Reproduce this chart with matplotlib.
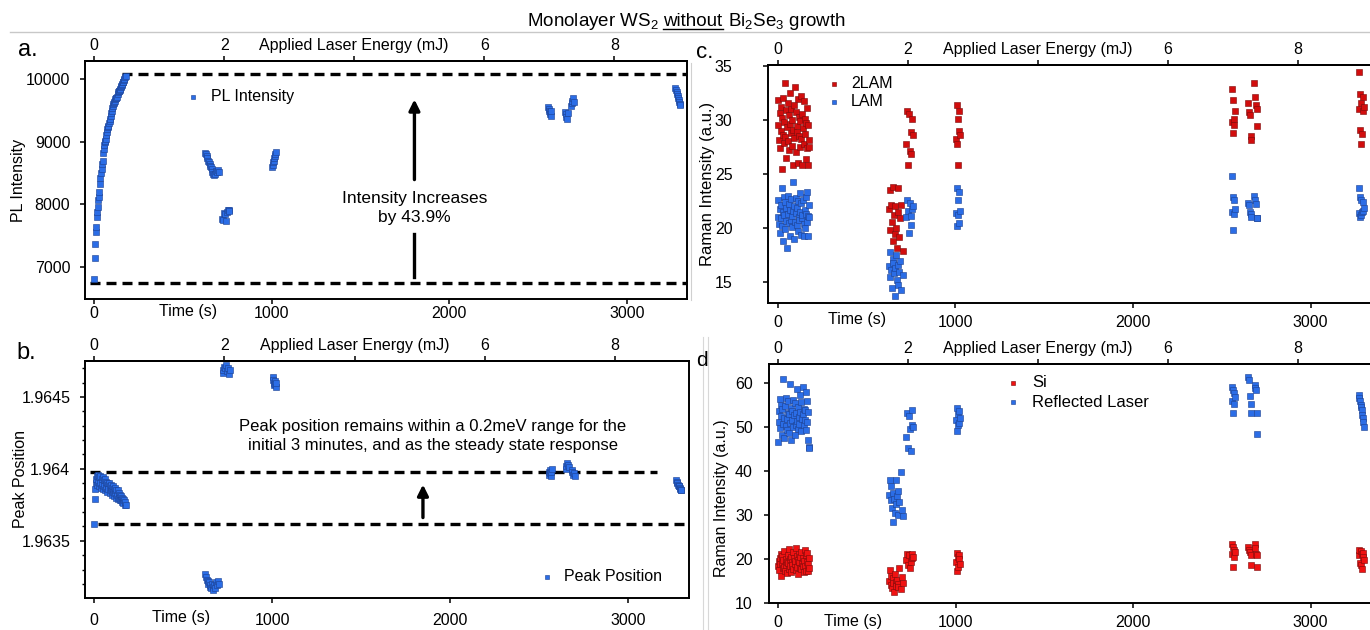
import matplotlib.pyplot as plt
from matplotlib.lines import Line2D
from matplotlib.ticker import MultipleLocator

plt.rcParams['font.family'] = ['Liberation Sans', 'DejaVu Sans']
plt.rcParams['mathtext.fontset'] = 'custom'
plt.rcParams['mathtext.rm'] = 'Liberation Sans'
plt.rcParams['mathtext.it'] = 'Liberation Sans:italic'

# ---- data ----
time_s = [
    # first 3 minutes
    0, 3, 6, 9, 12, 15, 18, 21, 24, 27, 30, 33, 36, 39, 42, 45, 48, 51, 54, 57,
    60, 63, 66, 69, 72, 75, 78, 81, 84, 87, 90, 93, 96, 99, 102, 105, 108, 111, 114, 117,
    120, 123, 126, 129, 132, 135, 138, 141, 144, 147, 150, 153, 156, 159, 162, 165, 168, 171, 174, 177,
    # ~650 s
    625, 630, 634, 638, 642, 646, 650, 654, 658, 662, 666, 670, 674, 678, 684, 690, 696, 702,
    # ~740 s
    722, 727, 732, 737, 742, 747, 752, 757, 762,
    # ~1010 s
    1003, 1006, 1009, 1012, 1015, 1018, 1021, 1024,
    # ~2560 s
    2555, 2558, 2561, 2564, 2567, 2570, 2573,
    # ~2670 s
    2650, 2654, 2658, 2662, 2666, 2684, 2688, 2692, 2696, 2700,
    # ~3285 s
    3272, 3275, 3278, 3281, 3284, 3287, 3290, 3293, 3296, 3299,
]

pl_intensity = [
    6800, 7140, 7360, 7560, 7640, 7800, 7880, 7960, 8060, 8120,
    8200, 8330, 8420, 8500, 8560, 8640, 8700, 8820, 8880, 8950,
    8990, 9020, 9040, 9110, 9150, 9200, 9240, 9260, 9300, 9340,
    9370, 9420, 9460, 9500, 9540, 9570, 9600, 9620, 9640, 9660,
    9690, 9700, 9700, 9720, 9760, 9790, 9810, 9820, 9830, 9840,
    9870, 9890, 9910, 9920, 9950, 9960, 9990, 10010, 10040, 10060,
    8820, 8800, 8780, 8740, 8700, 8680, 8650, 8620, 8590, 8560, 8520, 8490, 8470, 8480, 8540, 8520, 8550, 8510,
    7770, 7750, 7860, 7840, 7730, 7880, 7900, 7910, 7890,
    8600, 8630, 8670, 8700, 8740, 8780, 8810, 8840,
    9550, 9520, 9500, 9470, 9440, 9420, 9500,
    9480, 9440, 9400, 9370, 9460, 9580, 9620, 9660, 9700, 9640,
    9860, 9830, 9800, 9770, 9740, 9700, 9670, 9640, 9610, 9590,
]

peak_position = [
    1.96362, 1.96379, 1.96386, 1.96390, 1.96393, 1.96389, 1.96395, 1.96391, 1.96396, 1.96388,
    1.96394, 1.96390, 1.96395, 1.96387, 1.96393, 1.96389, 1.96394, 1.96386, 1.96392, 1.96388,
    1.96393, 1.96385, 1.96391, 1.96387, 1.96390, 1.96384, 1.96389, 1.96386, 1.96390, 1.96383,
    1.96388, 1.96385, 1.96389, 1.96382, 1.96387, 1.96384, 1.96388, 1.96381, 1.96386, 1.96383,
    1.96387, 1.96380, 1.96385, 1.96382, 1.96385, 1.96379, 1.96383, 1.96380, 1.96382, 1.96378,
    1.96381, 1.96378, 1.96380, 1.96377, 1.96379, 1.96376, 1.96378, 1.96375, 1.96377, 1.96375,
    1.96327, 1.96325, 1.96323, 1.96322, 1.96320, 1.96321, 1.96318, 1.96319, 1.96317,
    1.96320, 1.96318, 1.96316, 1.96319, 1.96317, 1.96321, 1.96319, 1.96322, 1.96320,
    1.96467, 1.96469, 1.96471, 1.96470, 1.96472, 1.96468, 1.96470, 1.96466, 1.96469,
    1.96464, 1.96462, 1.96460, 1.96458, 1.96461, 1.96459, 1.96457, 1.96460,
    1.96398, 1.96396, 1.96399, 1.96397, 1.96395, 1.96398, 1.96400,
    1.96400, 1.96402, 1.96404, 1.96403, 1.96401, 1.96399, 1.96398, 1.96396, 1.96397, 1.96395,
    1.96392, 1.96391, 1.96390, 1.96389, 1.96388, 1.96388, 1.96387, 1.96386, 1.96385, 1.96385,
]

raman_2lam = [
    29.5, 31.8, 28.1, 30.6, 27.4, 31.2, 29.0, 25.5, 30.2, 28.6,
    32.0, 27.9, 29.8, 33.4, 28.4, 30.9, 26.5, 29.3, 31.5, 28.0,
    30.4, 27.2, 32.5, 29.6, 28.8, 31.0, 27.6, 30.0, 25.8, 29.1,
    31.4, 28.3, 33.0, 27.0, 30.7, 29.4, 28.9, 31.9, 26.0, 30.3,
    28.5, 29.9, 27.5, 32.2, 28.2, 30.5, 25.8, 29.2, 31.7, 27.8,
    30.1, 28.7, 26.4, 29.7, 31.1, 27.4, 29.5, 25.8, 28.1, 27.5,
    21.8, 23.5, 19.8, 22.1, 20.6, 23.8, 18.8, 21.2, 19.5, 22.0, 20.0, 18.2, 21.5, 23.7, 19.2, 20.9, 22.1, 17.9,
    27.8, 30.8, 25.8, 30.5, 27.1, 26.8, 28.9, 30.1, 28.6,
    28.2, 31.4, 27.8, 30.1, 25.8, 29.0, 30.8, 28.6,
    29.8, 32.8, 28.8, 31.8, 30.1, 29.5, 30.8,
    31.5, 30.7, 30.4, 28.5, 28.1, 33.4, 32.1, 31.4, 31.0, 29.4,
    31.0, 34.4, 29.1, 32.4, 27.8, 31.5, 28.7, 32.1, 30.8, 31.2,
]

raman_lam = [
    21.0, 22.6, 20.4, 21.8, 19.6, 22.1, 20.9, 23.7, 20.2, 21.5,
    18.8, 22.9, 21.2, 19.9, 22.4, 20.7, 21.9, 18.2, 21.3, 23.0,
    20.5, 22.2, 21.7, 19.3, 20.8, 22.7, 21.1, 20.1, 24.3, 21.6,
    19.0, 22.0, 20.6, 21.4, 22.8, 20.3, 21.9, 19.7, 22.5, 21.0,
    20.8, 23.2, 21.5, 19.4, 22.3, 20.9, 21.2, 22.6, 20.4, 19.3,
    21.7, 20.0, 22.9, 21.3, 20.6, 23.3, 21.1, 19.3, 22.1, 21.0,
    16.5, 17.8, 15.5, 16.1, 14.5, 17.2, 16.8, 15.9, 13.7, 16.3, 17.5, 15.2, 16.6, 14.8, 16.0, 17.0, 14.3, 15.7,
    21.0, 22.6, 21.6, 19.6, 22.3, 21.1, 20.3, 21.8, 22.0,
    21.4, 23.7, 20.2, 22.6, 21.2, 23.3, 20.5, 21.6,
    21.5, 24.8, 19.8, 22.9, 21.3, 22.6, 21.8,
    22.3, 22.1, 21.5, 21.3, 21.0, 23.0, 22.6, 22.2, 20.9, 20.9,
    21.4, 23.7, 21.0, 22.9, 21.2, 22.6, 21.5, 22.4, 21.6, 21.9,
]

raman_si = [
    18.4, 19.6, 17.5, 20.3, 18.9, 21.2, 16.2, 19.1, 20.7, 17.9,
    19.8, 18.1, 21.8, 17.2, 20.0, 18.6, 19.4, 16.8, 20.9, 19.0,
    17.7, 22.2, 18.3, 19.9, 20.5, 17.0, 19.3, 18.7, 21.5, 17.6,
    20.2, 18.9, 19.5, 22.4, 17.4, 20.6, 18.2, 19.7, 16.6, 21.0,
    19.2, 18.0, 20.4, 17.8, 21.6, 19.0, 18.5, 20.1, 17.1, 19.6,
    22.0, 18.3, 20.8, 17.3, 19.4, 21.3, 18.8, 17.2, 20.1, 18.0,
    15.0, 17.4, 14.1, 16.2, 13.3, 15.6, 14.6, 12.5, 16.5, 14.8, 13.9, 15.3, 14.3, 13.6, 18.0, 13.1, 15.9, 14.6,
    19.7, 21.2, 18.6, 20.8, 17.9, 19.2, 20.3, 21.0, 20.5,
    19.4, 21.4, 17.2, 20.5, 18.2, 20.9, 20.0, 18.9,
    21.0, 23.4, 18.2, 22.6, 20.5, 22.0, 21.6,
    22.6, 22.0, 21.6, 20.8, 18.6, 23.3, 22.5, 21.0, 20.9, 18.2,
    20.9, 22.0, 19.0, 21.7, 18.6, 21.2, 17.8, 21.4, 20.5, 19.7,
]

raman_reflected = [
    46.6, 53.5, 51.0, 56.3, 49.6, 52.4, 55.0, 48.2, 53.9, 50.6,
    60.8, 52.0, 47.4, 54.7, 50.1, 56.5, 51.7, 49.2, 53.2, 55.8,
    48.6, 52.8, 59.6, 50.9, 54.2, 47.0, 51.4, 53.6, 49.8, 56.0,
    52.6, 48.0, 55.3, 50.4, 53.0, 58.6, 51.2, 49.5, 54.5, 52.1,
    50.7, 57.2, 53.4, 49.0, 55.5, 51.8, 52.9, 59.0, 50.3, 54.0,
    53.7, 51.5, 57.9, 49.3, 55.9, 51.0, 53.3, 47.0, 45.3, 45.1,
    34.6, 37.9, 33.3, 36.5, 31.5, 35.0, 28.4, 33.6, 30.5, 37.8, 32.4, 34.2, 29.9, 35.5, 33.0, 39.8, 31.0, 29.8,
    47.7, 53.0, 45.1, 52.3, 49.4, 44.5, 53.8, 50.4, 50.0,
    51.4, 54.3, 49.0, 52.8, 50.3, 53.6, 50.9, 52.0,
    55.8, 59.0, 53.2, 58.3, 55.1, 57.6, 56.8,
    61.2, 60.5, 57.0, 55.2, 53.2, 59.4, 58.8, 58.3, 53.2, 48.3,
    57.2, 56.4, 55.7, 54.9, 54.5, 53.8, 52.7, 51.9, 51.1, 50.0,
]

S_PER_MJ = 366          # time (s) per mJ of applied laser energy
energy_ticks = [0, 2, 4, 6, 8]
energy_labels = ['0', '2', 'Applied Laser Energy (mJ)', '6', '8']
time_ticks = [0, 1000, 2000, 3000]

# guide levels
pl_start, pl_steady = 6739, 10085
pk_low, pk_high = 1.963614, 1.96398

BLUE = '#2b6de6'
BLUE_EDGE = '#1b3f8f'
RED_C = '#d10d0d'
RED_D = '#ef1212'
DASH = (0, (3, 1.8))

W, H = 1370, 630
fig = plt.figure(figsize=(W / 100, H / 100), dpi=100)


def box(l, t, r, b):
    return [l / W, 1 - b / H, (r - l) / W, (b - t) / H]


def style(ax, xlim, ylim, ypad, xpad, toppad):
    ax.set_xlim(*xlim)
    ax.set_ylim(*ylim)
    ax.set_xticks(time_ticks)
    ax.tick_params(direction='out', length=3.6, width=1.1, labelsize=11.5)
    ax.tick_params(axis='y', pad=ypad)
    ax.tick_params(axis='x', pad=xpad)
    for s in ax.spines.values():
        s.set_linewidth(1.4)
    sec = ax.secondary_xaxis('top', functions=(lambda t: t / S_PER_MJ, lambda e: e * S_PER_MJ))
    sec.set_xticks(energy_ticks)
    sec.set_xticklabels(energy_labels)
    sec.tick_params(direction='out', length=3.6, width=1.1, labelsize=11.5, pad=toppad)
    sec.spines['top'].set_linewidth(1.4)
    return sec


def time_label(ax, t, dy):
    ax.annotate('Time (s)', xy=(t, 0), xycoords=('data', 'axes fraction'),
                xytext=(0, dy), textcoords='offset points', ha='center', va='center',
                fontsize=11.5)


def dots(ax, y, color, label):
    edge = BLUE_EDGE if color == BLUE else '#7a0a0a'
    return ax.scatter(time_s, y, marker='s', s=18, c=color, edgecolors=edge,
                      linewidths=0.4, label=label, zorder=3)


# ---- a. PL intensity ----
ax_a = fig.add_axes(box(85, 61, 687, 299))
style(ax_a, (-51, 3337), (6483, 10293), 7, 1.5, 2.4)
ax_a.set_yticks([7000, 8000, 9000, 10000])
dots(ax_a, pl_intensity, BLUE, 'PL Intensity')
ax_a.plot([160, 3330], [pl_steady, pl_steady], color='k', lw=2.4, ls=DASH)
ax_a.plot([-22, 3330], [pl_start, pl_start], color='k', lw=2.4, ls=DASH)
ax_a.plot([1803, 1803], [6840, 7530], color='k', lw=2.4)
ax_a.annotate('', xy=(1803, 9722), xytext=(1803, 8350),
              arrowprops=dict(arrowstyle='-|>', lw=2.4, color='k', mutation_scale=16))
ax_a.text(1803, 7941, 'Intensity Increases\nby 43.9%', ha='center', va='center',
          fontsize=12.5, linespacing=1.3)
ax_a.set_ylabel('PL Intensity', fontsize=11.5)
ax_a.yaxis.set_label_coords(-0.098, 0.5)
ax_a.legend(loc='center left', bbox_to_anchor=(0.169, 0.849), frameon=False, fontsize=11.5,
            handlelength=0.8, handletextpad=0.7, borderpad=0, borderaxespad=0, markerscale=0.8)
time_label(ax_a, 527, -9)

# ---- b. peak position ----
ax_b = fig.add_axes(box(85, 361, 689, 598))
style(ax_b, (-51, 3343), (1.963102, 1.96475), 7, 7, 2.4)
ax_b.set_yticks([1.9635, 1.964, 1.9645])
ax_b.set_yticklabels(['1.9635', '1.964', '1.9645'])
ax_b.yaxis.set_minor_locator(MultipleLocator(0.0001))
ax_b.tick_params(axis='y', which='minor', direction='out', length=2.2, width=1.0)
dots(ax_b, peak_position, BLUE, 'Peak Position')
ax_b.plot([-22, 3161], [pk_high, pk_high], color='k', lw=2.4, ls=DASH)
ax_b.plot([24, 3340], [pk_low, pk_low], color='k', lw=2.4, ls=DASH)
ax_b.annotate('', xy=(1848, 1.96391), xytext=(1848, 1.963642),
              arrowprops=dict(arrowstyle='-|>', lw=2.4, color='k', mutation_scale=16))
ax_b.text(1902, 1.96423, 'Peak position remains within a 0.2meV range for the\n'
          'initial 3 minutes, and as the steady state response',
          ha='center', va='center', fontsize=12, linespacing=1.3)
ax_b.set_ylabel('Peak Position', fontsize=11.5)
ax_b.yaxis.set_label_coords(-0.095, 0.5)
ax_b.legend(loc='center left', bbox_to_anchor=(0.754, 0.09), frameon=False, fontsize=11.5,
            handlelength=0.8, handletextpad=0.7, borderpad=0, borderaxespad=0, markerscale=0.8)
time_label(ax_b, 489, -14)

# ---- c. LAM / 2LAM ----
ax_c = fig.add_axes(box(768, 65, 1373, 303))
style(ax_c, (-56, 3352), (13.1, 35.05), 22, 5, 2.4)
ax_c.set_yticks([15, 20, 25, 30, 35])
dots(ax_c, raman_2lam, RED_C, '2LAM')
dots(ax_c, raman_lam, BLUE, 'LAM')
ax_c.set_ylabel('Raman Intensity (a.u.)', fontsize=12)
ax_c.yaxis.set_label_coords(-0.088, 0.5)
ax_c.legend(loc='center left', bbox_to_anchor=(0.0985, 0.885), frameon=False, fontsize=11.5,
            handlelength=0.8, handletextpad=0.65, borderpad=0, borderaxespad=0,
            labelspacing=0.2, markerscale=0.8)
time_label(ax_c, 446, -12)

# ---- d. Si / reflected laser ----
ax_d = fig.add_axes(box(769, 364, 1374, 603))
style(ax_d, (-51, 3357), (10, 64.2), 8, 5, 2.0)
ax_d.set_yticks([10, 20, 30, 40, 50, 60])
dots(ax_d, raman_si, RED_D, 'Si')
dots(ax_d, raman_reflected, BLUE, 'Reflected Laser')
ax_d.set_ylabel('Raman Intensity (a.u.)', fontsize=11.5)
ax_d.yaxis.set_label_coords(-0.066, 0.44)
ax_d.legend(loc='center left', bbox_to_anchor=(0.3927, 0.881), frameon=False, fontsize=12,
            handlelength=0.8, handletextpad=0.72, borderpad=0, borderaxespad=0,
            labelspacing=0.25, markerscale=0.8)
time_label(ax_d, 423, -13)

# ---- panel letters ----
fig.text(18 / W, 1 - 50 / H, 'a.', fontsize=17, va='center', ha='left')
fig.text(16 / W, 1 - 353 / H, 'b.', fontsize=17, va='center', ha='left')
fig.text(696 / W, 1 - 53 / H, 'c.', fontsize=16, va='center', ha='left')
fig.text(696 / W, 1 - 361 / H, 'd', fontsize=15, va='center', ha='left')

# ---- title with underlined "without" ----
r = fig.canvas.get_renderer()
parts = ['Monolayer WS$_2$', 'without', 'Bi$_2$Se$_3$ growth']
texts = [fig.text(0, 1 - 26 / H, p, fontsize=13.5, va='baseline', ha='left') for p in parts]
widths = [t.get_window_extent(r).width for t in texts]
gap = 5
x = 686 - (sum(widths) + 2 * gap) / 2
for t, w in zip(texts, widths):
    t.set_x(x / W)
    if t.get_text() == 'without':
        fig.add_artist(Line2D([x / W, (x + w) / W], [1 - 28.5 / H] * 2, color='k', lw=1.0))
    x += w + gap

# faint separators from the original layout
fig.add_artist(Line2D([10 / W, 1], [1 - 32 / H] * 2, color='#c8c8c8', lw=1.0))
fig.add_artist(Line2D([691 / W] * 2, [1 - 63 / H, 1 - 300 / H], color='#d0d0d0', lw=0.8))
fig.add_artist(Line2D([703 / W] * 2, [1 - 337 / H, 0], color='#d8d8d8', lw=0.8))
fig.add_artist(Line2D([708 / W] * 2, [1 - 337 / H, 0], color='#d8d8d8', lw=0.8))

fig.savefig('out.png', dpi=100)
